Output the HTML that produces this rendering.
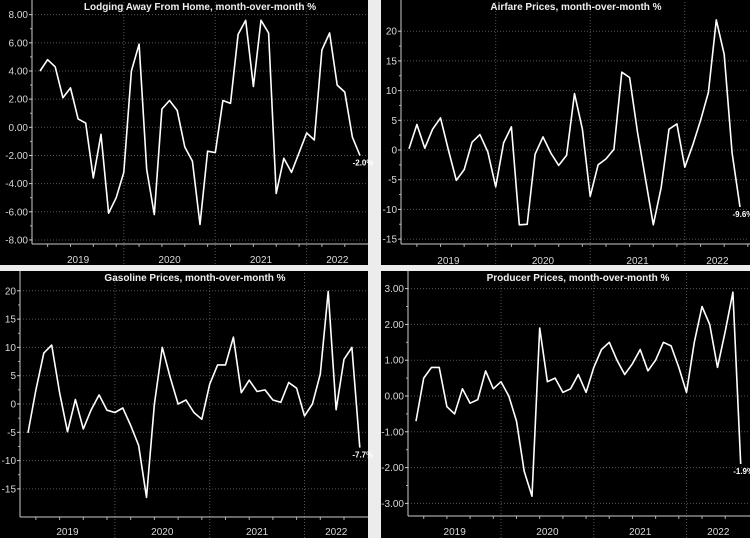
<!DOCTYPE html>
<html><head><meta charset="utf-8"><style>
html,body{margin:0;padding:0;background:#fff;}
svg{display:block;}
text{font-family:"Liberation Sans",sans-serif;}
</style></head><body>
<svg id="root" width="750" height="538" viewBox="0 0 750 538">
<rect x="0" y="0" width="750" height="538" fill="#ececec"/>
</svg>
<script>
const lodgingValues=[4.0,4.8,4.3,2.1,2.8,0.6,0.3,-3.6,-0.5,-6.1,-5.0,-3.2,4.0,5.9,-3.0,-6.2,1.3,1.9,1.2,-1.4,-2.4,-6.9,-1.7,-1.8,1.9,1.7,6.6,7.6,2.9,7.6,6.7,-4.7,-2.2,-3.2,-1.8,-0.4,-0.9,5.5,6.7,3.0,2.5,-0.7,-2.0];
const airfareValues=[0.2,4.3,0.3,3.5,5.4,0,-5.1,-3.3,1.3,2.6,-0.3,-6.2,1.2,3.9,-12.6,-12.5,-0.7,2.2,-0.5,-2.6,-0.9,9.5,3.5,-7.8,-2.5,-1.5,0.1,13.1,12.2,3.0,-4.8,-12.6,-6.3,3.5,4.4,-2.9,0.8,5.0,9.7,21.9,16.1,-0.5,-9.6];
const gasolineValues=[-5.1,2.5,9.0,10.4,2.0,-4.9,0.8,-4.4,-1.0,1.6,-1.1,-1.5,-0.7,-3.8,-7.3,-16.5,0.0,10.0,4.7,0.0,0.7,-1.5,-2.7,3.5,6.9,6.9,11.8,2.0,4.2,2.2,2.5,0.7,0.3,3.8,2.8,-2.1,0.0,5.3,19.9,-1.0,7.9,10.0,-7.7];
const producerValues=[-0.7,0.5,0.8,0.8,-0.3,-0.5,0.2,-0.2,-0.1,0.7,0.2,0.4,0.0,-0.7,-2.1,-2.8,1.9,0.4,0.5,0.1,0.2,0.6,0.1,0.8,1.3,1.5,1.0,0.6,0.9,1.3,0.7,1.0,1.5,1.4,0.8,0.1,1.5,2.5,2.0,0.8,1.8,2.9,-1.9];
const yearLabels=["2019","2020","2021","2022"];
const lodgingTicks=[8,6,4,2,0,-2,-4,-6,-8];
const airfareTicks=[20,15,10,5,0,-5,-10,-15];
const gasolineTicks=[20,15,10,5,0,-5,-10,-15];
const producerTicks=[3,2,1,0,-1,-2,-3];
const lastLabels=["-2.0%","-9.6%","-7.7%","-1.9%"];

const NS="http://www.w3.org/2000/svg";
const root=document.getElementById('root');
function mk(tag,attrs,parent){const e=document.createElementNS(NS,tag);for(const k in attrs)e.setAttribute(k,attrs[k]);parent.appendChild(e);return e;}

function panel(cfg){
  const g=mk('g',{},root);
  
  
  const bg=mk('rect',{x:cfg.px,y:cfg.py,width:cfg.pw,height:cfg.ph,fill:'#000'},g);
  
  
  const yS=v=>cfg.zeroY-v*cfg.ppu;
  const xS=i=>cfg.x0+i*cfg.step;
  // gridlines & ticks
  cfg.ticks.forEach(t=>{
    const y=yS(t);
    const gl=mk('line',{x1:cfg.ax,x2:cfg.px+cfg.pw-2,y1:y,y2:y,stroke:'#555','stroke-dasharray':'1,2','stroke-width':1},g);
    
    
    const tk=mk('line',{x1:cfg.ax-3,x2:cfg.ax,y1:y,y2:y,stroke:'#ccc'},g);
    
    
    const tl=mk('text',{x:cfg.ax-4,y:y+3.5,'text-anchor':'end','font-size':'10',fill:'#d8d8d8'},g);
    tl.textContent=cfg.dec?t.toFixed(2):String(t);
    
    
  });
  // minor ticks
  for(let k=0;k<cfg.ticks.length-1;k++){
    const y=(yS(cfg.ticks[k])+yS(cfg.ticks[k+1]))/2;
    const mt=mk('line',{x1:cfg.ax-2,x2:cfg.ax,y1:y,y2:y,stroke:'#aaa'},g);
    
    
  }
  // year separators: year boundary i index = 11 + 12*k  (Jan of year -> index offset)
  yearLabels.forEach((yl,k)=>{
    const xStart=xS(-1+12*k);
    if(k>0){
      const sep=mk('line',{x1:xStart,x2:xStart,y1:cfg.py+2,y2:cfg.py+cfg.ph,stroke:'#555','stroke-dasharray':'1,2'},g);
      
      
    }
    const xEnd=Math.min(xS(11+12*k),cfg.px+cfg.pw);
    const lt=mk('text',{x:(xStart+xEnd)/2,y:cfg.labelY,'text-anchor':'middle','font-size':'10',fill:'#d8d8d8'},g);
    lt.textContent=yl;
    
    
  });
  // quarter ticks
  for(let m=2;m<48;m+=3){
    const x=xS(m-1);
    if(x>cfg.px+cfg.pw-2) break;
    if((m-1)%12===11) continue;
    const qt=mk('line',{x1:x,x2:x,y1:cfg.axBottom,y2:cfg.axBottom+3,stroke:'#aaa'},g);
    
    
  }
  // axes
  const ya=mk('line',{x1:cfg.ax,x2:cfg.ax,y1:cfg.py,y2:cfg.axBottom,stroke:'#ccc'},g);
  
  
  const xa=mk('line',{x1:cfg.ax,x2:cfg.px+cfg.pw,y1:cfg.axBottom,y2:cfg.axBottom,stroke:'#ccc'},g);
  
  
  // title
  const tt=mk('text',{x:cfg.titleX,y:cfg.py+10,'text-anchor':'middle','font-size':'10','font-weight':'bold',fill:'#eee'},g);
  tt.textContent=cfg.title;
  
  
  // line
  const pts=cfg.values.map((v,i)=>xS(i).toFixed(1)+','+yS(v).toFixed(1)).join(' ');
  const pl=mk('polyline',{points:pts,fill:'none',stroke:'#fff','stroke-width':1.6,'stroke-linejoin':'round'},g);
  
  
  const n=cfg.values.length-1;
  const ll=mk('text',{x:xS(n)+3,y:yS(cfg.values[n])+10,'text-anchor':'middle','font-size':'8','font-weight':'bold',fill:'#fff'},g);
  ll.textContent=cfg.last;
  
  
}

panel({name:'lodging-panel',title:'Lodging Away From Home, month-over-month %',px:0,py:0,pw:368,ph:265,ax:32,axBottom:244,zeroY:127.3,ppu:14.08,x0:40,step:7.62,values:lodgingValues,ticks:lodgingTicks,dec:true,labelY:263,titleX:200,last:lastLabels[0]});
panel({name:'airfare-panel',title:'Airfare Prices, month-over-month %',px:381,py:0,pw:369,ph:265,ax:401,axBottom:244,zeroY:150,ppu:5.94,x0:409,step:7.88,values:airfareValues,ticks:airfareTicks,dec:false,labelY:264,titleX:576,last:lastLabels[1]});
panel({name:'gasoline-panel',title:'Gasoline Prices, month-over-month %',px:0,py:271,pw:368,ph:267,ax:20,axBottom:517,zeroY:404,ppu:5.66,x0:28,step:7.9,values:gasolineValues,ticks:gasolineTicks,dec:false,labelY:535,titleX:195,last:lastLabels[2]});
panel({name:'producer-panel',title:'Producer Prices, month-over-month %',px:381,py:271,pw:369,ph:267,ax:408,axBottom:516,zeroY:396,ppu:35.8,x0:416,step:7.73,values:producerValues,ticks:producerTicks,dec:true,labelY:535,titleX:578,last:lastLabels[3]});
</script>
</body></html>
